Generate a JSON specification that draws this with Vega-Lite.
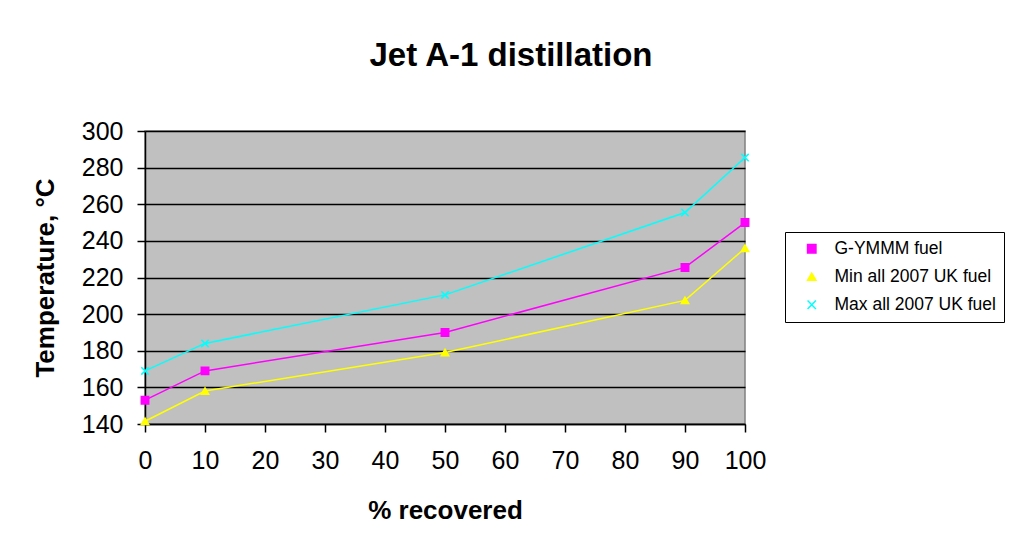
{
  "$schema": "https://vega.github.io/schema/vega-lite/v6.json",
  "width": 600,
  "height": 293,
  "autosize": {"type": "none"},
  "padding": {"left": 145, "top": 131, "right": 268, "bottom": 124},
  "background": "white",
  "title": {
    "text": "Jet A-1 distillation",
    "font": "Liberation Sans",
    "fontSize": 33,
    "fontWeight": "bold",
    "color": "black",
    "anchor": "middle",
    "dx": 66,
    "offset": 46
  },
  "config": {
    "view": {"fill": "#C0C0C0", "stroke": "#808080", "strokeWidth": 1.5},
    "axis": {
      "labelFont": "Liberation Sans",
      "labelFontSize": 25,
      "labelColor": "black",
      "titleFont": "Liberation Sans",
      "titleFontSize": 26,
      "titleFontWeight": "bold",
      "titleColor": "black",
      "domainColor": "black",
      "domainWidth": 1.5,
      "tickColor": "black",
      "tickWidth": 1.5,
      "tickSize": 8
    }
  },
  "data": {
    "values": [
      {"pct": 0, "temp": 153, "series": "G-YMMM fuel"},
      {"pct": 10, "temp": 169, "series": "G-YMMM fuel"},
      {"pct": 50, "temp": 190, "series": "G-YMMM fuel"},
      {"pct": 90, "temp": 225.5, "series": "G-YMMM fuel"},
      {"pct": 100, "temp": 250, "series": "G-YMMM fuel"},
      {"pct": 0, "temp": 141.5, "series": "Min all 2007 UK fuel"},
      {"pct": 10, "temp": 158, "series": "Min all 2007 UK fuel"},
      {"pct": 50, "temp": 179, "series": "Min all 2007 UK fuel"},
      {"pct": 90, "temp": 207.5, "series": "Min all 2007 UK fuel"},
      {"pct": 100, "temp": 236, "series": "Min all 2007 UK fuel"},
      {"pct": 0, "temp": 169, "series": "Max all 2007 UK fuel"},
      {"pct": 10, "temp": 184, "series": "Max all 2007 UK fuel"},
      {"pct": 50, "temp": 210.5, "series": "Max all 2007 UK fuel"},
      {"pct": 90, "temp": 255.5, "series": "Max all 2007 UK fuel"},
      {"pct": 100, "temp": 285.5, "series": "Max all 2007 UK fuel"}
    ]
  },
  "encoding": {
    "x": {
      "field": "pct",
      "type": "quantitative",
      "scale": {"domain": [0, 100], "nice": false, "zero": false},
      "axis": {
        "title": "% recovered",
        "values": [0, 10, 20, 30, 40, 50, 60, 70, 80, 90, 100],
        "grid": false,
        "labelPadding": 16,
        "titlePadding": 24,
        "labelFlush": false
      }
    },
    "y": {
      "field": "temp",
      "type": "quantitative",
      "scale": {"domain": [140, 300], "nice": false, "zero": false},
      "axis": {
        "title": "Temperature, °C",
        "values": [140, 160, 180, 200, 220, 240, 260, 280, 300],
        "grid": true,
        "gridColor": "black",
        "gridWidth": 1.5,
        "gridOpacity": 1,
        "labelPadding": 14,
        "titlePadding": 23,
        "labelFlush": false
      }
    },
    "color": {
      "field": "series",
      "type": "nominal",
      "scale": {
        "domain": ["G-YMMM fuel", "Min all 2007 UK fuel", "Max all 2007 UK fuel"],
        "range": ["#FF00FF", "#FFFF00", "#00FFFF"]
      },
      "legend": {
        "title": null,
        "orient": "none",
        "legendX": 640,
        "legendY": 101,
        "strokeColor": "black",
        "fillColor": "white",
        "padding": 8,
        "labelFont": "Liberation Sans",
        "labelFontSize": 17.5,
        "labelColor": "black",
        "symbolSize": 70,
        "symbolStrokeWidth": 1.5,
        "symbolOffset": 10,
        "rowPadding": 9,
        "labelOffset": 14,
        "labelLimit": 300
      }
    }
  },
  "layer": [
    {
      "mark": {"type": "line", "strokeWidth": 1.5}
    },
    {
      "mark": {"type": "point", "filled": true, "opacity": 1, "strokeWidth": 1.5},
      "encoding": {
        "stroke": {
          "field": "series",
          "type": "nominal",
          "legend": null,
          "scale": {
            "domain": ["G-YMMM fuel", "Min all 2007 UK fuel", "Max all 2007 UK fuel"],
            "range": ["#FF00FF", "#FFFF00", "#00FFFF"]
          }
        },
        "shape": {
          "field": "series",
          "type": "nominal",
          "scale": {
            "domain": ["G-YMMM fuel", "Min all 2007 UK fuel", "Max all 2007 UK fuel"],
            "range": ["square", "triangle-up", "M-1,-1L1,1M-1,1L1,-1"]
          }
        },
        "size": {"value": 55}
      }
    }
  ]
}
